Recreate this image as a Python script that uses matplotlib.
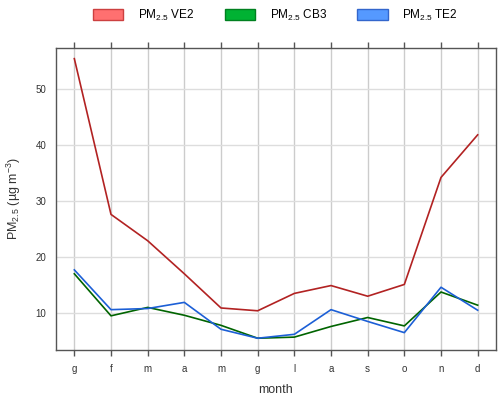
import matplotlib
matplotlib.use("Agg")
import matplotlib.pyplot as plt
from matplotlib.patches import Patch

plt.rcParams["font.family"] = ["Liberation Sans", "DejaVu Sans"]
plt.rcParams["mathtext.fontset"] = "custom"
plt.rcParams["mathtext.rm"] = "Liberation Sans"
plt.rcParams["mathtext.it"] = "Liberation Sans:italic"

# ── data ─────────────────────────────────────────────────────────────────────
months = ["g", "f", "m", "a", "m", "g", "l", "a", "s", "o", "n", "d"]
ve2 = [55.4, 27.6, 22.9, 17.0, 10.9, 10.4, 13.5, 14.9, 13.0, 15.1, 34.2, 41.8]
cb3 = [17.0, 9.5, 11.0, 9.6, 7.8, 5.5, 5.7, 7.6, 9.2, 7.7, 13.75, 11.4]
te2 = [17.7, 10.6, 10.8, 11.9, 7.1, 5.5, 6.2, 10.6, 8.5, 6.5, 14.6, 10.5]
series_names = [r"PM$_{2.5}$ VE2", r"PM$_{2.5}$ CB3", r"PM$_{2.5}$ TE2"]

line_colors = ["#b22222", "#006400", "#1c5fd6"]
fill_colors = ["#ff7070", "#00b233", "#5599ff"]
edge_colors = ["#cc4040", "#008020", "#3366cc"]

fig = plt.figure(figsize=(4.98, 3.96), dpi=100)
ax = fig.add_axes([56 / 498, 1 - 350 / 396, 440 / 498, 302 / 396])

x = list(range(1, len(months) + 1))
# green under blue, as in the reference
ax.plot(x, ve2, color=line_colors[0], lw=1.2, zorder=3)
ax.plot(x, cb3, color=line_colors[1], lw=1.2, zorder=3)
ax.plot(x, te2, color=line_colors[2], lw=1.2, zorder=4)

ax.set_xlim(0.5, 12.5)
ax.set_ylim(3.4, 57.3)
ax.set_xticks(x)
ax.set_xticklabels(months)
ax.set_yticks([10, 20, 30, 40, 50])

ax.grid(True, axis="y", color="#dddddd", lw=1.0, zorder=0)
ax.grid(True, axis="x", color="#cccccc", lw=1.0, zorder=0)
ax.set_axisbelow(True)
for s in ax.spines.values():
    s.set_color("#555555")
    s.set_linewidth(1.0)

ax.tick_params(axis="x", direction="out", length=4, width=1, color="#555555",
               labelsize=7, pad=6, top=True, bottom=True, labelcolor="#333333")
ax.tick_params(axis="y", length=0, labelsize=7, pad=7, labelcolor="#333333")

ax.set_xlabel("month", fontsize=9, color="#333333", labelpad=7)
ax.set_ylabel(r"PM$_{2.5}$ (µg m$^{-3}$)", fontsize=9, color="#333333", labelpad=9)

handles = [Patch(facecolor=f, edgecolor=e, lw=1) for f, e in zip(fill_colors, edge_colors)]
fig.legend(handles, series_names, loc="upper center", bbox_to_anchor=(0.553, 1.008),
           ncol=3, frameon=False, fontsize=8.5, handlelength=2.6, handleheight=1.1,
           handletextpad=1.2, columnspacing=2.6)

fig.savefig("out.png", dpi=100)
